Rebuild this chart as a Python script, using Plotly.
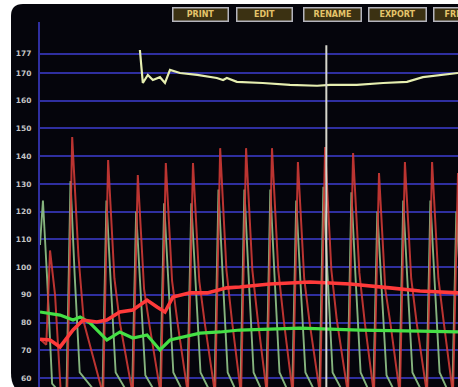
import plotly.graph_objects as go

# ---------------- data ----------------
tick_vals = [60, 70, 80, 90, 100, 110, 120, 130, 140, 150, 160, 170, 177]
tick_text = ["60", "70", "80", "90", "100", "110", "120", "130", "140", "150", "160", "170", "177"]

buttons = ["PRINT", "EDIT", "RENAME", "EXPORT", "FREEZE"]

# upper (yellow) trend
yellow_t = [2.39, 2.46, 2.58, 2.70, 2.87, 2.99, 3.11, 3.35, 3.76, 4.23, 4.38, 4.47, 4.71,
            5.33, 5.98, 6.63, 6.94, 7.58, 8.21, 8.78, 9.16, 9.57, 10.0]
yellow_v = [178.3, 166.4, 169.3, 167.5, 168.5, 166.4, 171.1, 170.0, 169.3, 168.2, 167.5, 168.2, 166.8,
            166.4, 165.7, 165.4, 165.7, 165.7, 166.4, 166.8, 168.5, 169.3, 170.0]

# red pulsatile waveform
red_wave_t = [0.00, 0.15, 0.24, 0.36, 0.50, 0.65,
              0.77, 0.92, 1.05, 1.51,
              1.63, 1.78, 1.91, 2.22,
              2.34, 2.49, 2.62, 2.89,
              3.01, 3.16, 3.29, 3.54,
              3.66, 3.81, 3.94, 4.19,
              4.31, 4.46, 4.59, 4.81,
              4.93, 5.08, 5.21, 5.43,
              5.55, 5.70, 5.83, 6.05,
              6.17, 6.32, 6.45, 6.70,
              6.82, 6.97, 7.10, 7.37,
              7.49, 7.64, 7.77, 7.99,
              8.11, 8.26, 8.39, 8.61,
              8.73, 8.88, 9.01, 9.26,
              9.38, 9.53, 9.66, 9.88,
              10.00, 10.15]
red_wave_v = [74, 72, 106, 90, 54, 54,
              146.9, 104, 80, 54,
              138.6, 96, 80, 54,
              133.2, 92, 79, 54,
              137.5, 95, 80, 54,
              137.5, 95, 80, 54,
              142.9, 99, 81, 54,
              142.9, 99, 81, 54,
              142.9, 99, 81, 54,
              137.9, 96, 80, 54,
              143.3, 99, 81, 54,
              141.1, 98, 80, 54,
              133.9, 92, 79, 54,
              137.9, 96, 80, 54,
              137.9, 96, 80, 54,
              133.9, 92]

# green pulsatile waveform
green_wave_t = [0.00, 0.07, 0.17, 0.29, 0.63,
                0.73, 0.83, 0.95, 1.49,
                1.59, 1.69, 1.81, 2.20,
                2.30, 2.40, 2.52, 2.87,
                2.97, 3.07, 3.19, 3.52,
                3.62, 3.72, 3.84, 4.17,
                4.27, 4.37, 4.49, 4.79,
                4.89, 4.99, 5.11, 5.41,
                5.51, 5.61, 5.73, 6.03,
                6.13, 6.23, 6.35, 6.68,
                6.78, 6.88, 7.00, 7.35,
                7.45, 7.55, 7.67, 7.97,
                8.07, 8.17, 8.29, 8.59,
                8.69, 8.79, 8.91, 9.24,
                9.34, 9.44, 9.56, 9.86,
                9.96, 10.06]
green_wave_v = [108, 124, 96, 58, 52,
                131, 97, 62, 52,
                124, 95, 62, 52,
                120, 93, 61, 52,
                123, 95, 62, 52,
                123, 95, 62, 52,
                128, 97, 62, 52,
                128, 97, 62, 52,
                128, 97, 62, 52,
                124, 95, 62, 52,
                129, 97, 62, 52,
                127, 96, 62, 52,
                120, 93, 61, 52,
                124, 95, 62, 52,
                124, 95, 62, 52,
                120, 93]

# slow red trend
red_trend_t = [0.00, 0.24, 0.48, 0.79, 1.03, 1.36, 1.60, 1.91, 2.22, 2.56, 2.80, 2.99, 3.18,
               3.59, 4.00, 4.47, 4.78, 5.50, 6.46, 7.42, 8.37, 9.09, 10.0]
red_trend_v = [74.0, 73.7, 71.2, 77.3, 80.9, 80.2, 80.9, 83.8, 84.5, 88.1, 85.6, 83.8, 89.2,
               90.7, 90.7, 92.5, 92.8, 93.9, 94.6, 93.9, 92.5, 91.4, 90.7]

# slow green trend
green_trend_t = [0.00, 0.48, 0.79, 0.96, 1.20, 1.60, 1.91, 2.22, 2.56, 2.87, 3.11, 3.42, 3.83,
                 4.31, 4.78, 6.22, 7.66, 9.09, 10.0]
green_trend_v = [83.8, 82.7, 80.9, 82.0, 79.8, 73.7, 76.6, 74.4, 75.5, 70.1, 73.7, 74.8, 76.2,
                 76.6, 77.3, 78.0, 77.3, 76.9, 76.6]

cursor_t = 6.85

# ---------------- layout geometry ----------------
FIG_W, FIG_H = 458, 387
ML, MR, MT, MB = 40, 0, 22, 0
PW = FIG_W - ML - MR
PH = FIG_H - MT - MB


def px_x(p):
    return (p - ML) / PW


def px_y(p):
    return (FIG_H - MB - p) / PH


fig = go.Figure()

fig.add_trace(go.Scatter(x=green_wave_t, y=green_wave_v, mode="lines",
                         line=dict(color="#8cbd84", width=1.9), opacity=0.95, hoverinfo="skip"))
fig.add_trace(go.Scatter(x=red_wave_t, y=red_wave_v, mode="lines",
                         line=dict(color="#cf3a36", width=2.0), opacity=0.9, hoverinfo="skip"))
fig.add_trace(go.Scatter(x=yellow_t, y=yellow_v, mode="lines",
                         line=dict(color="#e6eeb0", width=2.2), hoverinfo="skip"))
fig.add_trace(go.Scatter(x=green_trend_t, y=green_trend_v, mode="lines",
                         line=dict(color="#45e045", width=3.2), hoverinfo="skip"))
fig.add_trace(go.Scatter(x=red_trend_t, y=red_trend_v, mode="lines",
                         line=dict(color="#ff3a3a", width=3.6), hoverinfo="skip"))

# screen background (rounded dark panel)
x0, x1, y0, y1 = 11, 475, 4, 395
r1, r2 = 12, 22
path = (f"M {px_x(x0 + r1)},{px_y(y0)} L {px_x(x1)},{px_y(y0)} L {px_x(x1)},{px_y(y1)} "
        f"L {px_x(x0 + r2)},{px_y(y1)} Q {px_x(x0)},{px_y(y1)} {px_x(x0)},{px_y(y1 - r2)} "
        f"L {px_x(x0)},{px_y(y0 + r1)} Q {px_x(x0)},{px_y(y0)} {px_x(x0 + r1)},{px_y(y0)} Z")
shapes = [dict(type="path", xref="paper", yref="paper", path=path,
               fillcolor="#05050c", line=dict(width=0), layer="below"),
          dict(type="line", xref="x", yref="y", x0=cursor_t, x1=cursor_t, y0=56.75, y1=180,
               line=dict(color="#d6d6cc", width=2), layer="above")]

annotations = []
btn_centers = [200, 264, 332, 397, 461]
btn_widths = [52, 52, 54, 54, 52]
for name, cx, w in zip(buttons, btn_centers, btn_widths):
    annotations.append(dict(x=px_x(cx), y=px_y(14), xref="paper", yref="paper",
                            text=name, showarrow=False, xanchor="center", yanchor="middle",
                            font=dict(family="DejaVu Sans", size=8, color="#e4c46a", weight="bold"),
                            bgcolor="#3b3112", bordercolor="#b4b4bc", borderwidth=1.5,
                            borderpad=1, width=w, height=10))

fig.update_layout(
    width=FIG_W, height=FIG_H, autosize=False,
    margin=dict(l=ML, r=MR, t=MT, b=MB),
    paper_bgcolor="#ffffff", plot_bgcolor="rgba(0,0,0,0)",
    showlegend=False, shapes=shapes, annotations=annotations,
    xaxis=dict(range=[0, 10], showgrid=False, zeroline=False, showticklabels=False,
               showline=False, ticks=""),
    yaxis=dict(range=[56.75, 188.4], tickvals=tick_vals, ticktext=tick_text,
               showgrid=True, gridcolor="#2f2fa0", gridwidth=2, zeroline=False,
               showline=True, linecolor="#2f2fa0", linewidth=2,
               ticks="outside", ticklen=5, tickcolor="rgba(0,0,0,0)",
               tickfont=dict(family="DejaVu Sans", size=7.5, color="#c4c4c4", weight="bold")),
)

fig.write_html("out.html", config={"displayModeBar": False},
               post_script="document.body.style.margin='0';document.body.style.overflow='hidden';")
